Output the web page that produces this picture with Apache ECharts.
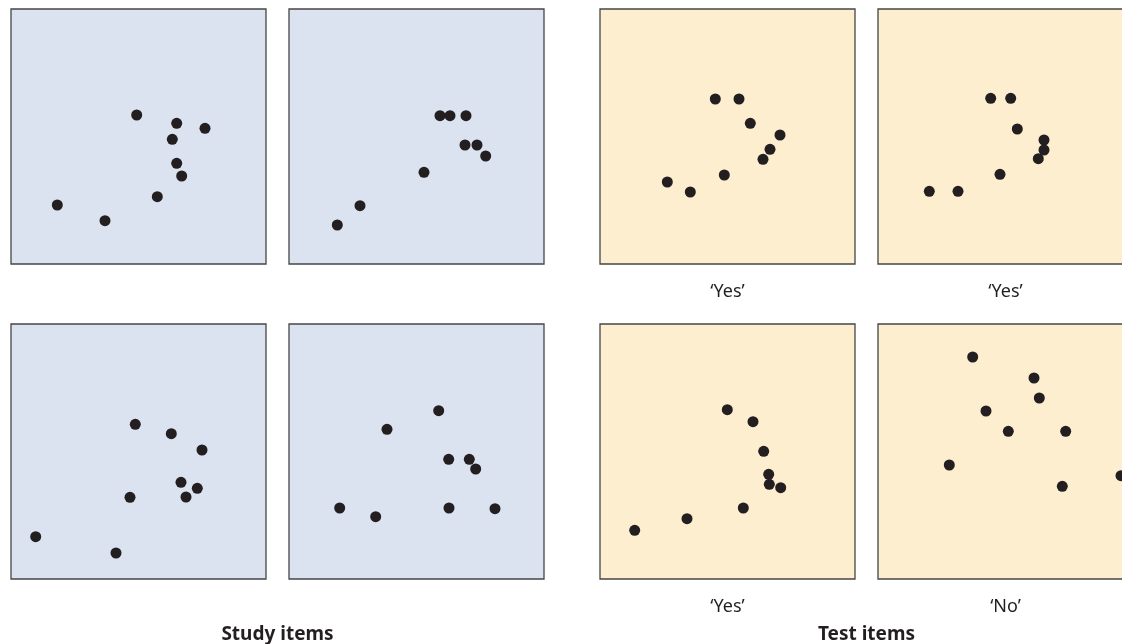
<!DOCTYPE html>
<html>
<head>
<meta charset="utf-8">
<script src="https://cdn.jsdelivr.net/npm/echarts@6/dist/echarts.min.js"></script>
<style>
html,body{margin:0;padding:0;background:#fff;overflow:hidden;width:1122px;height:644px;}
#chart{width:1140px;height:644px;}
</style>
</head>
<body>
<div id="chart"></div>
<script>
// Dot positions per panel, in panel units (0..255, x from left, y from bottom)
const studyTopLeft = [[125.7,149],[165.7,140.7],[194,135.7],[161.3,124.7],[165.7,100.7],[170.7,88],[146.3,67.3],[46.3,59],[94,43.3]];
const studyTopRight = [[151,148.3],[161,148.3],[177,148.3],[176,119],[188,119],[196.7,108],[135,91.7],[71,58.3],[48.3,39]];
const studyBottomLeft = [[124.3,154.7],[160.3,145.3],[191,129],[170,96.7],[186.3,90.7],[175,82],[119,81.7],[24.7,42.3],[105,26]];
const studyBottomRight = [[149.7,168.3],[98,149.7],[159.7,119.7],[180.3,119.7],[186.7,110],[50.7,71],[86.7,62.3],[160,71],[206,70.3]];
const testTopLeft = [[115.3,165],[139,165],[150.3,140.7],[180,129],[170,114.7],[163,104.7],[124.3,89],[67.3,82],[90.3,72]];
const testTopRight = [[112.7,165.7],[132.7,165.7],[139.3,135],[166,124],[166,114],[160.3,105.3],[122,89.7],[51.3,72.7],[80,72.7]];
const testBottomLeft = [[127.3,169.3],[153,157.3],[163.7,127.7],[168.7,104.7],[169.3,94.7],[180.7,91.3],[143.3,71],[87,60.3],[34.7,48.7]];
const testBottomRight = [[94.7,222],[156,201],[161.3,181],[108,168],[130.3,147.7],[187.7,147.7],[71.3,114],[184.3,92.7],[243,103.3]];

const panelData = [studyTopLeft, studyTopRight, testTopLeft, testTopRight,
                   studyBottomLeft, studyBottomRight, testBottomLeft, testBottomRight];
const panelKinds = ['study','study','test','test','study','study','test','test'];
const panelLabels = ['', '', '\u2018Yes\u2019', '\u2018Yes\u2019', '', '', '\u2018Yes\u2019', '\u2018No\u2019'];
const groupTitles = ['Study items', 'Test items'];

// layout
const colLeft = [11, 289, 600, 878];
const rowTop = [9, 324];
const size = 255;
const bg = {study: '#dbe2f0', test: '#fdeed0'};

const grids = [], xAxes = [], yAxes = [], series = [], titles = [];
panelData.forEach((d, i) => {
  const col = i % 4, row = Math.floor(i / 4);
  grids.push({
    left: colLeft[col], top: rowTop[row], width: size, height: size,
    show: true, backgroundColor: bg[panelKinds[i]],
    borderColor: '#454545', borderWidth: 1.3
  });
  xAxes.push({gridIndex: i, type: 'value', min: 0, max: size, show: false});
  yAxes.push({gridIndex: i, type: 'value', min: 0, max: size, show: false});
  series.push({
    type: 'scatter', xAxisIndex: i, yAxisIndex: i, data: d,
    symbol: 'circle', symbolSize: 11, clip: true,
    itemStyle: {color: '#231f20', opacity: 1}, silent: true
  });
  if (panelLabels[i]) {
    titles.push({
      text: panelLabels[i], left: colLeft[col] + size / 2, top: rowTop[row] + size + 19,
      textAlign: 'center', padding: 0,
      textStyle: {fontFamily: 'Noto Sans', fontSize: 18, fontWeight: 'normal', color: '#231f20'}
    });
  }
});
titles.push({
  text: groupTitles[0], left: (colLeft[0] + colLeft[1] + size) / 2, top: 625, textAlign: 'center', padding: 0,
  textStyle: {fontFamily: 'Noto Sans', fontSize: 19, fontWeight: 'bold', color: '#231f20'}
});
titles.push({
  text: groupTitles[1], left: (colLeft[2] + colLeft[3] + size) / 2, top: 625, textAlign: 'center', padding: 0,
  textStyle: {fontFamily: 'Noto Sans', fontSize: 19, fontWeight: 'bold', color: '#231f20'}
});

const chart = echarts.init(document.getElementById('chart'), null, {renderer: 'canvas'});
chart.setOption({
  animation: false,
  backgroundColor: '#ffffff',
  title: titles,
  grid: grids,
  xAxis: xAxes,
  yAxis: yAxes,
  series: series
});
</script>
</body>
</html>
